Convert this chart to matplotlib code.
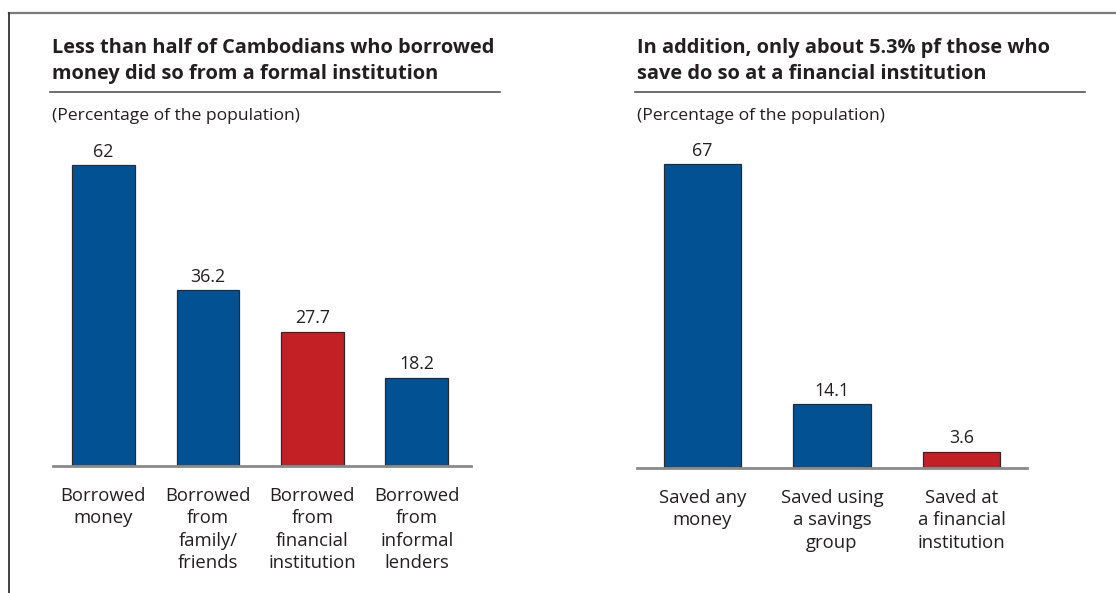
import matplotlib
matplotlib.use("Agg")
import matplotlib.pyplot as plt
from matplotlib.lines import Line2D

# Data
borrow_labels = ["Borrowed\nmoney", "Borrowed\nfrom\nfamily/\nfriends",
                 "Borrowed\nfrom\nfinancial\ninstitution", "Borrowed\nfrom\ninformal\nlenders"]
borrow_values = [62, 36.2, 27.7, 18.2]
borrow_value_text = ["62", "36.2", "27.7", "18.2"]
borrow_highlight = [False, False, True, False]

save_labels = ["Saved any\nmoney", "Saved using\na savings\ngroup", "Saved at\na financial\ninstitution"]
save_values = [67, 14.1, 3.6]
save_value_text = ["67", "14.1", "3.6"]
save_highlight = [False, False, True]

left_title = "Less than half of Cambodians who borrowed\nmoney did so from a formal institution"
right_title = "In addition, only about 5.3% pf those who\nsave do so at a financial institution"
unit_text = "(Percentage of the population)"

BLUE = "#025193"
RED = "#C32026"
TEXT = "#231F20"
FONT = "Open Sans"

W, H = 1116, 593
fig = plt.figure(figsize=(W / 100, H / 100), dpi=100)
fig.patch.set_facecolor("white")


def fx(px):
    return px / W


def fy(py):
    return 1 - py / H


# outer frame (top and left)
fig.add_artist(Line2D([fx(9), fx(1116)], [fy(13), fy(13)], color="#7a7a7a", lw=1.6))
fig.add_artist(Line2D([fx(9), fx(9)], [fy(13), fy(593)], color="#333333", lw=1.3))


def panel(x0, x1, y_top, y_base, xlim, ylim_top, labels, values, vtext, hl, title, tx, ul_end):
    ax = fig.add_axes([fx(x0), fy(y_base), fx(x1) - fx(x0), (y_base - y_top) / H])
    ax.set_xlim(*xlim)
    ax.set_ylim(0, ylim_top)
    colors = [RED if h else BLUE for h in hl]
    xs = range(len(values))
    ax.bar(xs, values, width=0.6, color=colors, edgecolor="#2a2a2a", linewidth=0.9, zorder=2)
    for x, v, t in zip(xs, values, vtext):
        ax.annotate(t, (x, v), xytext=(0, 3), textcoords="offset points",
                    ha="center", va="bottom", fontsize=12.8, color=TEXT, family=FONT)
    ax.axhline(0, color="#8a8a8a", lw=2.0, zorder=3, clip_on=False)
    ax.set_xticks(list(xs))
    ax.set_xticklabels(labels, fontsize=13.3, color=TEXT, family=FONT, linespacing=1.32)
    ax.tick_params(axis="x", length=0, pad=15)
    ax.set_yticks([])
    for s in ax.spines.values():
        s.set_visible(False)
    ax.patch.set_alpha(0)
    fig.text(fx(tx), fy(61), title, ha="left", va="center", fontsize=14.4,
             fontweight="bold", color=TEXT, family=FONT, linespacing=1.4)
    fig.add_artist(Line2D([fx(tx - 2), fx(ul_end)], [fy(92), fy(92)], color="#555555", lw=1.2))
    fig.text(fx(tx), fy(116), unit_text, ha="left", va="center", fontsize=12.6,
             color=TEXT, family=FONT)
    return ax


panel(53, 471, 150, 466, (-0.483, 3.52), 316 / 4.855,
      borrow_labels, borrow_values, borrow_value_text, borrow_highlight,
      left_title, 52, 500)
panel(637, 1027, 150, 468, (-0.506, 2.506), 318 / 4.54,
      save_labels, save_values, save_value_text, save_highlight,
      right_title, 637, 1085)

fig.savefig("out.png", dpi=100)
